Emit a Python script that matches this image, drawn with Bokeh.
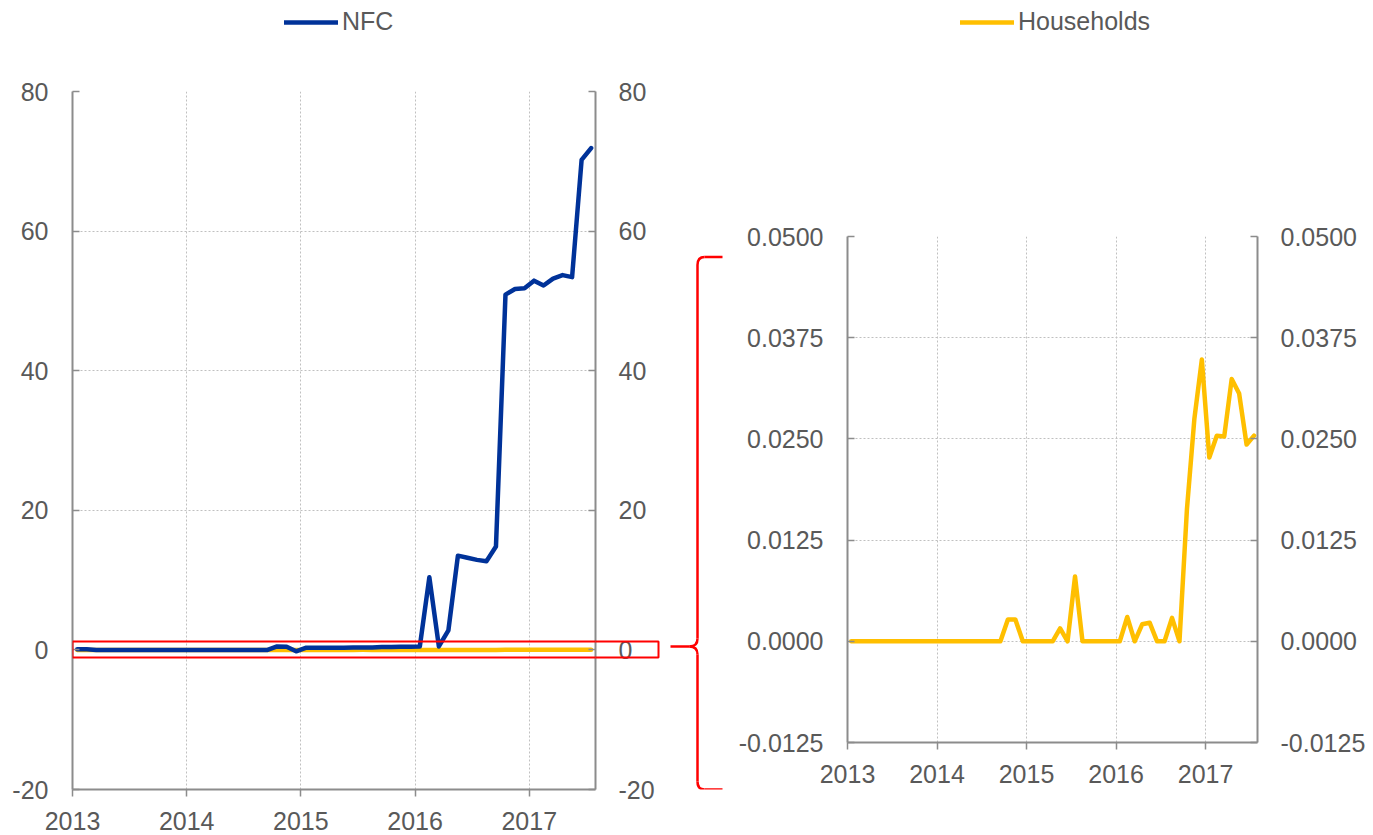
from bokeh.plotting import figure
from bokeh.layouts import row, column
from bokeh.models import (Range1d, LinearAxis, FixedTicker, Legend, LegendItem,
                          BoxAnnotation, ColumnDataSource)
from bokeh.embed import file_html
from bokeh.resources import INLINE

# ---------------- data ----------------
year_ticks = [2013, 2014, 2015, 2016, 2017]
year_labels = ["2013", "2014", "2015", "2016", "2017"]
months = [f"{y}-{m:02d}" for y in range(2013, 2018) for m in range(1, 13)][:55]

nfc = [0.1, 0.1, 0.0, 0.0, 0.0, 0.0, 0.0, 0.0, 0.0, 0.0, 0.0, 0.0,
       0.0, 0.0, 0.0, 0.0, 0.0, 0.0, 0.0, 0.0, 0.0, 0.5, 0.45, -0.2,
       0.3, 0.3, 0.3, 0.3, 0.3, 0.35, 0.35, 0.35, 0.4, 0.4, 0.45, 0.45,
       0.5, 10.4, 0.5, 2.8, 13.5, 13.2, 12.9, 12.7, 14.8, 50.9, 51.7, 51.8,
       52.9, 52.2, 53.2, 53.7, 53.4, 70.2, 71.9]

households = [0.0, 0.0, 0.0, 0.0, 0.0, 0.0, 0.0, 0.0, 0.0, 0.0, 0.0, 0.0,
              0.0, 0.0, 0.0, 0.0, 0.0, 0.0, 0.0, 0.0, 0.0, 0.0027, 0.0027, 0.0,
              0.0, 0.0, 0.0, 0.0, 0.0016, 0.0, 0.0080, 0.0, 0.0, 0.0, 0.0, 0.0,
              0.0, 0.0030, 0.0, 0.0021, 0.0023, 0.0, 0.0, 0.0029, 0.0, 0.0163, 0.0275, 0.0348,
              0.0227, 0.0254, 0.0253, 0.0324, 0.0306, 0.0243, 0.0254]

nfc_ticks = [-20, 0, 20, 40, 60, 80]
nfc_tick_labels = ["-20", "0", "20", "40", "60", "80"]
hh_ticks = [-0.0125, 0.0, 0.0125, 0.025, 0.0375, 0.05]
hh_tick_labels = ["-0.0125", "0.0000", "0.0125", "0.0250", "0.0375", "0.0500"]

# zoom box on the NFC chart (value range shown in detail on the right)
zoom_top, zoom_bottom = 1.2, -1.1
# brace extent, in NFC units
brace_top, brace_tip, brace_bottom = 56.3, 0.5, -20

# ---------------- styling ----------------
BLUE = "#003299"
YELLOW = "#FFBF00"
RED = "#FF0000"
TXT = "#595959"
AXC = "#8c8c8c"
GRID = "#c0c0c0"
FONT = "Liberation Sans"
FS = "25px"
LEG_H = 44
H = 835 - LEG_H
TOP_L, FRAME_L = 91 - LEG_H, 698
BOT_L = H - TOP_L - FRAME_L
TOP_R, FRAME_R = 236 - LEG_H, 506
LW = 4.5

x = [int(s[:4]) + (int(s[5:]) - 0.5) / 12 for s in months]
src = ColumnDataSource(dict(x=x, nfc=nfc, hh=households))
X_END = 2017.58


def style_axis(ax, ticks, labels, is_x=False):
    ax.ticker = FixedTicker(ticks=ticks)
    ax.major_label_overrides = {t: l for t, l in zip(ticks, labels)}
    ax.axis_line_color = AXC
    ax.axis_line_width = 2
    ax.major_tick_line_color = AXC
    ax.major_tick_line_width = 1.5
    ax.minor_tick_line_color = None
    ax.major_label_text_font = FONT
    ax.major_label_text_font_size = FS
    ax.major_label_text_color = TXT
    if is_x:
        ax.major_tick_in = 0
        ax.major_tick_out = 7
        ax.major_label_standoff = 15
    else:
        ax.major_tick_in = 7
        ax.major_tick_out = 0
        ax.major_label_standoff = 24


def style_grid(p, xt, yt):
    p.xgrid.ticker = FixedTicker(ticks=xt)
    p.ygrid.ticker = FixedTicker(ticks=yt)
    for g in (p.xgrid, p.ygrid):
        g.grid_line_color = GRID
        g.grid_line_dash = "2 2"
        g.grid_line_width = 1


def legend_fig(width, label, col, color, vx):
    f = figure(width=width, height=LEG_H, output_backend="svg", toolbar_location=None,
               x_range=Range1d(0, 1), y_range=Range1d(0, 1),
               x_axis_location=None, y_axis_location=None, min_border=0,
               frame_align=False)
    f.outline_line_color = None
    f.grid.visible = False
    rr = f.line("x", col, source=src, color=color, line_width=LW,
                line_cap="round", visible=False)
    lg = Legend(items=[LegendItem(label=label, renderers=[rr])],
                location=(vx, 8), orientation="horizontal",
                glyph_width=54, glyph_height=20, label_height=20,
                label_standoff=4, padding=0, margin=0, spacing=0,
                border_line_alpha=0, background_fill_alpha=0,
                label_text_font=FONT, label_text_font_size=FS,
                label_text_color=TXT)
    f.add_layout(lg)
    return f


# ---------------- left chart (NFC) ----------------
pL = figure(width=665, height=H, output_backend="svg", toolbar_location=None,
            x_range=Range1d(2013, X_END), y_range=Range1d(-20, 80),
            min_border_left=72, min_border_right=70, min_border_top=TOP_L,
            min_border_bottom=BOT_L, frame_align=False)
pL.outline_line_color = None
style_axis(pL.xaxis[0], year_ticks, year_labels, is_x=True)
style_axis(pL.yaxis[0], nfc_ticks, nfc_tick_labels)
rL = LinearAxis()
style_axis(rL, nfc_ticks, nfc_tick_labels)
rL.major_label_standoff = 23
pL.add_layout(rL, "right")
style_grid(pL, year_ticks, nfc_ticks)

pL.line("x", "hh", source=src, color=YELLOW, line_width=LW,
        line_join="round", line_cap="round")
pL.line("x", "nfc", source=src, color=BLUE, line_width=LW,
        line_join="round", line_cap="round")
pL.add_layout(BoxAnnotation(left=2013.0, right=2018.13, top=zoom_top, bottom=zoom_bottom,
                            fill_alpha=0, line_color=RED, line_alpha=1, line_width=2,
                            level="overlay"))

# ---------------- middle (end of zoom box + brace), overlaps left border ----------------
pM = figure(width=140, height=H, output_backend="svg", toolbar_location=None,
            x_range=Range1d(595, 735), y_range=pL.y_range,
            x_axis_location=None, y_axis_location=None,
            min_border_left=0, min_border_right=0, min_border_top=TOP_L,
            min_border_bottom=BOT_L, frame_align=False, margin=(0, 0, 0, -70))
pM.outline_line_color = None
pM.grid.visible = False
pM.background_fill_color = None
pM.border_fill_color = None
pM.add_layout(BoxAnnotation(left=580, right=658, top=zoom_top, bottom=zoom_bottom,
                            fill_alpha=0, line_color=RED, line_alpha=1, line_width=2,
                            level="overlay"))
bw = 2.5
r = 1.15  # corner size in NFC units
pM.segment(x0=[722, 697, 689, 697, 704],
           y0=[brace_top, brace_top - r, brace_tip, brace_tip - r, brace_bottom],
           x1=[704, 697, 670, 697, 722],
           y1=[brace_top, brace_tip + r, brace_tip, brace_bottom + r, brace_bottom],
           line_color=RED, line_width=bw)
pM.quadratic(x0=[704, 697, 689, 697],
             y0=[brace_top, brace_tip + r, brace_tip, brace_bottom + r],
             x1=[697, 689, 697, 704],
             y1=[brace_top - r, brace_tip, brace_tip - r, brace_bottom],
             cx=[697, 697, 697, 697],
             cy=[brace_top, brace_tip, brace_tip, brace_bottom],
             line_color=RED, line_width=bw)

# ---------------- right chart (Households) ----------------
pR = figure(width=635, height=H, output_backend="svg", toolbar_location=None,
            x_range=Range1d(2013, X_END), y_range=Range1d(-0.0125, 0.05),
            min_border_left=112, min_border_right=113, min_border_top=TOP_R,
            min_border_bottom=H - TOP_R - FRAME_R, frame_align=False)
pR.outline_line_color = None
style_axis(pR.xaxis[0], year_ticks, year_labels, is_x=True)
style_axis(pR.yaxis[0], hh_ticks, hh_tick_labels)
rR = LinearAxis()
style_axis(rR, hh_ticks, hh_tick_labels)
rR.major_label_standoff = 23
pR.add_layout(rR, "right")
style_grid(pR, year_ticks, hh_ticks)
pR.line("x", "hh", source=src, color=YELLOW, line_width=LW,
        line_join="round", line_cap="round")

# ---------------- legends (top strip) ----------------
legL = legend_fig(735, "NFC", "nfc", BLUE, 284)
legR = legend_fig(635, "Households", "hh", YELLOW, 225)

layout = column(row(legL, legR), row(pL, pM, pR))
open("out.html", "w").write(file_html(layout, INLINE))
